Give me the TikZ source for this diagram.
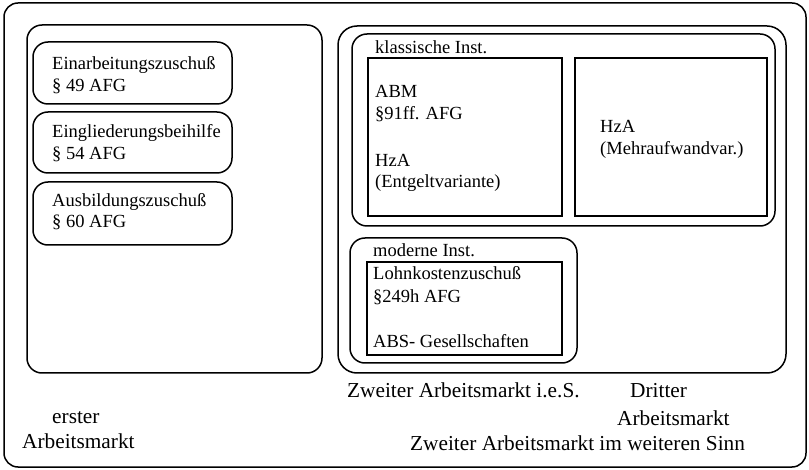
\documentclass[tikz,border=0pt]{standalone}
\usepackage{fontspec}
\setmainfont{Liberation Serif}
\begin{document}
\begin{tikzpicture}[
	x=1pt, y=-1pt,
	rb/.style = {rectangle, draw, line width=1.5pt, inner sep=0, rounded corners=15pt},
	sb/.style = {rectangle, draw, line width=1.5pt, inner sep=0},
	sz/.style 2 args = {minimum width=#1, minimum height=#2},
	t/.style = {inner sep=0, anchor=base west, font=\fontsize{18.5}{22}\selectfont},
	l/.style = {inner sep=0, anchor=base west, font=\fontsize{21.3}{25}\selectfont}
	]
	\useasboundingbox (0, 0) rectangle (809, 470);
	
	% ===== ===== ===== ===== =====
	
	% Boxes
	\node[rb, sz={802}{464}, rounded corners=14pt]	(all)	at	(405, 235)		{};
	\node[rb, sz={295}{348}]	(erst)	at	(174.5, 199)	{};
	\node[rb, sz={199}{62}]		(ein)	at	(132.5, 73)		{};
	\node[rb, sz={199}{61}]		(eing)	at	(132.5, 142.5)	{};
	\node[rb, sz={199}{63}]		(ausb)	at	(132.5, 213.5)	{};
	
	\node[rb, sz={448}{347}, rounded corners=19pt]	(ies)	at	(562, 199.5)	{};
	\node[rb, sz={423}{192}]	(klass)	at	(563.5, 130)	{};
	\node[sb, sz={194}{158}]	(abm)	at	(465, 137)		{};
	\node[sb, sz={192}{158}]	(mehr)	at	(671, 137)		{};
	\node[rb, sz={227}{125}]	(mod)	at	(463.5, 300.5)	{};
	\node[sb, sz={195}{93}]		(lohn)	at	(464.5, 308.5)	{};
	
	
	
	% ===== ===== ===== ===== =====
	
	% Texts
	\node[t]	(ein1)	at	(52, 70)	{Einarbeitungszuschuß};
	\node[t]	(ein2)	at	(52, 92)	{§ 49 AFG};
	\node[t]	(eing1)	at	(52, 138)	{Eingliederungsbeihilfe};
	\node[t]	(eing2)	at	(52, 160)	{§ 54 AFG};
	\node[t]	(ausb1)	at	(52, 207)	{Ausbildungszuschuß};
	\node[t]	(ausb2)	at	(52, 228)	{§ 60 AFG};
	
	\node[t]	(klass1)	at	(375, 54)	{klassische Inst.};
	\node[t]	(abm1)	at	(375, 98)	{ABM};
	\node[t]	(abm2)	at	(375, 120)	{§91ff. AFG};
	\node[t]	(abm3)	at	(375, 167)	{HzA};
	\node[t]	(abm4)	at	(375, 188)	{(Entgeltvariante)};
	\node[t]	(mehr1)	at	(600, 133)	{HzA};
	\node[t]	(mehr2)	at	(600, 155)	{(Mehraufwandvar.)};
	
	\node[t]	(mod1)	at	(373, 257)	{moderne Inst.};
	\node[t]	(lohn1)	at	(373, 280)	{Lohnkostenzuschuß};
	\node[t]	(lohn2)	at	(373, 303)	{§249h AFG};
	\node[t]	(lohn3)	at	(373, 348)	{ABS- Gesellschaften};
	
	
	
	% ===== ===== ===== ===== =====
	
	% Labels
	\node[l]	(ies1)	at	(347, 398)	{Zweiter Arbeitsmarkt i.e.S.};
	\node[l]	(dritt1)	at	(630, 398)	{Dritter};
	\node[l]	(dritt2)	at	(617, 425)	{Arbeitsmarkt};
	\node[l]	(iws1)	at	(410, 450)	{Zweiter Arbeitsmarkt im weiteren Sinn};
	\node[l]	(erst1)	at	(52, 423)	{erster};
	\node[l]	(erst2)	at	(22, 448)	{Arbeitsmarkt};
	
\end{tikzpicture}
\end{document}
